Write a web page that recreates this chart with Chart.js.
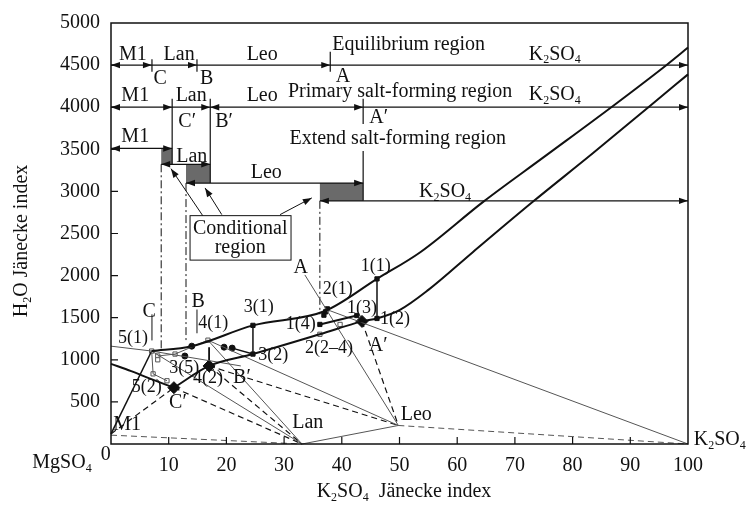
<!DOCTYPE html>
<html><head><meta charset="utf-8">
<script src="https://cdn.jsdelivr.net/npm/chart.js@4.4.0/dist/chart.umd.min.js"></script>
<style>html,body{margin:0;padding:0;background:#fff}#wrap{width:749px;height:508px}</style>
</head><body><div id="wrap"><canvas id="c" width="749" height="508"></canvas></div>
<script>
// ---------- data (Jänecke index: x = K2SO4, y = H2O) ----------
const xTickVals = [0,10,20,30,40,50,60,70,80,90,100];
const yTickVals = [0,500,1000,1500,2000,2500,3000,3500,4000,4500,5000];

// salt points
const ptM1 = [0,120], ptLan = [33.1,0], ptLeo = [49.8,220], ptK2 = [100,0];
// invariant points
const ptC = [7.05,1104], ptB = [16.8,1233], ptA = [37.4,1597];
const ptCp = [10.9,669], ptBp = [17.0,927], ptAp = [43.5,1456];

// solubility curves
const upperCurve = [[7.05,1104],[14.0,1162],[24.6,1409],[37.1,1580],[46.1,1961],[53.6,2278],[64.5,2876],[75,3407],[87,4015],[96.4,4508],[100,4708]];
const lowerLeft = [[0,951],[3.5,865],[7,770],[10.9,669]];
const lowerRight = [[10.9,669],[17.0,927],[24.6,1068],[36.2,1303],[43.5,1456],[46.1,1491],[50,1590],[55,1830],[62.7,2278],[73.1,2876],[83.5,3452],[93.4,4015],[100,4390]];
const thinCurve = [[0,1162],[7.05,1104],[22.5,927]];
const thinCurve2 = [[8.1,1045],[11.1,1068],[16.8,1233]];
const shortCurve = [[36.2,1420],[42.6,1526]];

// experimental points
const filledSq = [[24.6,1409],[24.6,1068],[46.1,1961],[46.1,1491],[42.6,1526],[36.2,1420],[36.9,1530],[37.2,1570],[37.5,1605]];
const openSq = [[7.05,1104],[7.3,833],[9.7,751],[8.1,1045],[8.1,1000],[11.1,1068],[16.8,1233],[36.2,1303],[39.7,1420]];
const diamonds = [[10.9,669],[17.0,927],[43.5,1456]];
const dots = [[14.0,1162],[12.8,1045],[19.6,1150],[21.0,1139]];

// ties between liquid pairs
const tie31 = [[24.6,1068],[24.6,1409]];
const tie11 = [[46.1,1491],[46.1,1961]];
const tie42 = [[17.0,927],[17.0,1150]];
const tieDots = [[21.0,1139],[24.6,1068]];

// region diagram (top)
const rowEq = 4500, rowPri = 4000, rowM1 = 3510, rowLan = 3322, rowLeo = 3099, rowK = 2888;
const eqBounds = [7.1,14.9,38.0];      // C, B, A
const priBounds = [10.6,17.2,43.7];    // C', B', A'
const condRects = [[8.7,10.6,3322,3510],[13.0,17.2,3099,3322],[36.2,43.7,2888,3099]];

// ---------- chart ----------
const SERIF = "'Liberation Serif','Times New Roman',serif";
const ds = [];
const P = a => a.map(p => ({x:p[0], y:p[1]}));
function line(data, w, color, dash, extra){
  ds.push(Object.assign({type:'scatter', data:P(data), showLine:true, borderColor:color, borderWidth:w,
    borderDash:dash||[], pointRadius:0, pointHoverRadius:0, fill:false, tension:0, clip:false}, extra||{}));
}
function pts(data, style, r, fill, border){
  ds.push({type:'scatter', data:P(data), showLine:false, pointStyle:style, pointRadius:r, pointHoverRadius:r,
    pointBackgroundColor:fill, pointBorderColor:border, pointBorderWidth:1, clip:false});
}
const K='#111', G='#555';
const DASH=[6,4], DD=[8,3,2,3];
// main curves
line(upperCurve, 2, K, null, {cubicInterpolationMode:'monotone'});
line(lowerLeft, 2, K, null, {cubicInterpolationMode:'monotone'});
line(lowerRight, 2, K, null, {cubicInterpolationMode:'monotone'});
line(shortCurve, 2, K);
line(thinCurve, 1, G);
line(thinCurve2, 1, G);
line([ptC,[7.3,833],[9.7,751]], 1, G);
// tie lines
line([ptM1, ptC], 1.5, K);
line([ptC, ptLan], 1, G);
line([ptB, ptLan], 1, G);
line([ptB, ptLeo], 1, G);
line([[33.6,2008], ptLeo], 1, G);
line([ptA, ptK2], 1, G);
line([ptLan, ptLeo], 1, G);
line([[0,105], ptLan], 1, G, DASH);
line([ptM1, ptCp], 1.2, K, DASH);
line([ptCp, ptLan], 1.2, K, DASH);
line([ptBp, ptLan], 1.2, K, DASH);
line([ptBp, ptLeo], 1.2, K, DASH);
line([ptAp, ptLeo], 1.2, K, DASH);
line([ptLeo, ptK2], 1, G, DASH);
line(tie31, 1.5, K); line(tie11, 1.5, K); line(tie42, 1.8, K); line(tieDots, 1.5, K);
// leader lines
line([[7.1,1230],[7.1,1540]], 1, K);
line([[14.9,1315],[14.9,1597]], 1, K);
// region diagram lines
line([[0,rowEq],[100,rowEq]], 1.3, K);
line([[0,rowPri],[100,rowPri]], 1.3, K);
line([[0,rowM1],[priBounds[0],rowM1]], 1.3, K);
line([[condRects[0][0],rowLan],[priBounds[1],rowLan]], 1.3, K);
line([[condRects[1][0],rowLeo],[priBounds[2],rowLeo]], 1.3, K);
line([[condRects[2][0],rowK],[100,rowK]], 1.3, K);
line([[eqBounds[0],4420],[eqBounds[0],4570]], 1.2, K);
line([[eqBounds[1],4420],[eqBounds[1],4570]], 1.2, K);
line([[eqBounds[2],4420],[eqBounds[2],4660]], 1.2, K);
line([[priBounds[0],4100],[priBounds[0],rowLan]], 1.2, K);
line([[priBounds[1],4100],[priBounds[1],rowLeo]], 1.2, K);
line([[priBounds[2],4100],[priBounds[2],3800]], 1.2, K);
line([[priBounds[2],3480],[priBounds[2],rowK]], 1.2, K);
line([[condRects[0][0],rowLan],[condRects[0][0],1127]], 1, K, DD);
line([[condRects[1][0],rowLeo],[condRects[1][0],1230]], 1, K, DD);
line([[condRects[2][0],rowK],[condRects[2][0],1540]], 1, K, DD);
// markers
pts(openSq, 'rect', 3, '#fff', G);
pts(filledSq, 'rect', 3, K, K);
pts(dots, 'circle', 3, K, K);
pts(diamonds, 'rectRot', 6, K, K);

// annotations (data coordinates)
const bigLabels = [
 ['M1',3.8,4626],['Lan',11.8,4626],['Leo',26.2,4626],['Equilibrium region',51.6,4743],['K_2SO_4',76.9,4626],
 ['C',8.5,4332],['B',16.6,4332],['A',40.2,4367],
 ['M1',4.2,4132],['Lan',13.9,4132],['Leo',26.2,4132],['Primary salt-forming region',50.1,4179],['K_2SO_4',76.9,4144],
 ["C\u2032",13.2,3827],["B\u2032",19.6,3827],["A\u2032",46.4,3874],
 ['M1',4.2,3651],['Extend salt-forming region',49.7,3628],['Lan',14.0,3416],['Leo',26.9,3217],['K_2SO_4',57.9,2994],
 ['C',6.6,1573],['B',15.1,1691],['A',32.9,2090],["A\u2032",46.3,1162],["B\u2032",22.7,787],["C\u2032",11.6,493],
 ['M1',2.8,223],['Lan',34.1,247],['Leo',52.9,352],['K_2SO_4',105.5,47],['MgSO_4',-8.5,-223],['0',-0.9,-129]
];
const smallLabels = [
 ['1(1)',45.9,2113],['2(1)',39.3,1843],['1(3)',43.5,1608],['1(2)',49.2,1479],['1(4)',32.9,1421],
 ['2(2\u20134)',37.8,1139],['3(1)',25.6,1620],['3(2)',28.1,1057],['4(1)',17.7,1432],['5(1)',3.8,1256],
 ['3(5)',12.7,904],['4(2)',16.8,775],['5(2)',6.2,669]
];
const condBox = [13.7,31.2,2184,2712];
const condArrows = [[[15.9,2712],[10.4,3270]],[[19.2,2724],[16.3,3041]],[[29.3,2724],[34.8,2923]]];
const arrowsR = [[eqBounds[0],rowEq],[eqBounds[1],rowEq],[eqBounds[2],rowEq],[100,rowEq],
 [priBounds[0],rowPri],[priBounds[1],rowPri],[priBounds[2],rowPri],[100,rowPri],
 [priBounds[0],rowM1],[priBounds[1],rowLan],[priBounds[2],rowLeo],[100,rowK]];
const arrowsL = [[0,rowEq],[0,rowPri],[priBounds[1],rowPri],[0,rowM1],[condRects[0][0],rowLan],[condRects[1][0],rowLeo],[condRects[2][0],rowK]];

function rich(ctx, str, x, y, size, align){
  const parts=[];
  for(let i=0;i<str.length;i++){
    if(str[i]==='_'&&i+1<str.length){parts.push([str[i+1],true]);i++;}
    else{ if(parts.length&&!parts[parts.length-1][1]) parts[parts.length-1][0]+=str[i]; else parts.push([str[i],false]); }
  }
  const fN=size+'px '+SERIF, fS=Math.round(size*0.62)+'px '+SERIF;
  let w=0; for(const p of parts){ctx.font=p[1]?fS:fN; w+=ctx.measureText(p[0]).width;}
  let cx = align==='center'? x-w/2 : (align==='right'? x-w : x);
  ctx.textBaseline='middle'; ctx.textAlign='left';
  for(const p of parts){ctx.font=p[1]?fS:fN; ctx.fillText(p[0],cx,p[1]?y+size*0.28:y); cx+=ctx.measureText(p[0]).width;}
}
function arrowHead(ctx,x,y,dir,ang){
  const L=9,H=3.2; ctx.save(); ctx.translate(x,y); ctx.rotate(ang!==undefined?ang:(dir>0?0:Math.PI));
  ctx.beginPath(); ctx.moveTo(0,0); ctx.lineTo(-L,-H); ctx.lineTo(-L,H); ctx.closePath(); ctx.fill(); ctx.restore();
}

const deco = {
  id:'deco',
  beforeDatasetsDraw(chart){
    const ctx=chart.ctx, X=v=>chart.scales.x.getPixelForValue(v), Y=v=>chart.scales.y.getPixelForValue(v);
    ctx.save(); ctx.fillStyle='#6a6a6a';
    for(const r of condRects){ ctx.fillRect(X(r[0]),Y(r[3]),X(r[1])-X(r[0]),Y(r[2])-Y(r[3])); }
    ctx.restore();
  },
  afterDatasetsDraw(chart){
    const ctx=chart.ctx, xs=chart.scales.x, ys=chart.scales.y;
    const X=v=>xs.getPixelForValue(v), Y=v=>ys.getPixelForValue(v);
    ctx.save();
    ctx.fillStyle=K;
    for(const a of arrowsR) arrowHead(ctx,X(a[0]),Y(a[1]),1);
    for(const a of arrowsL) arrowHead(ctx,X(a[0]),Y(a[1]),-1);
    // conditional box
    ctx.fillStyle='#fff'; ctx.strokeStyle=K; ctx.lineWidth=1;
    const bx=X(condBox[0]), by=Y(condBox[3]), bw=X(condBox[1])-bx, bh=Y(condBox[2])-by;
    ctx.fillRect(bx,by,bw,bh); ctx.strokeRect(bx,by,bw,bh);
    ctx.fillStyle=K;
    for(const a of condArrows){
      const x0=X(a[0][0]),y0=Y(a[0][1]),x1=X(a[1][0]),y1=Y(a[1][1]);
      ctx.beginPath(); ctx.moveTo(x0,y0); ctx.lineTo(x1,y1); ctx.stroke();
      arrowHead(ctx,x1,y1,1,Math.atan2(y1-y0,x1-x0));
    }
    rich(ctx,'Conditional',X(22.4),Y(2559),20,'center');
    rich(ctx,'region',X(22.4),Y(2336),20,'center');
    ctx.fillStyle=K;
    for(const l of bigLabels) rich(ctx,l[0],X(l[1]),Y(l[2]),20,'center');
    for(const l of smallLabels) rich(ctx,l[0],X(l[1]),Y(l[2]),18,'center');
    // frame and inward ticks
    ctx.strokeStyle=K; ctx.lineWidth=1.5;
    ctx.strokeRect(X(0),Y(5000),X(100)-X(0),Y(0)-Y(5000));
    ctx.lineWidth=1.2; ctx.beginPath();
    for(const v of xTickVals){ if(v===0||v===100) continue; ctx.moveTo(X(v),Y(0)); ctx.lineTo(X(v),Y(0)-7); }
    for(const v of yTickVals){ if(v===0||v===5000) continue; ctx.moveTo(X(0),Y(v)); ctx.lineTo(X(0)+7,Y(v)); }
    ctx.stroke();
    // axis titles
    rich(ctx,'K_2SO_4  J\u00e4necke index',404,492,20,'center');
    ctx.translate(22,241); ctx.rotate(-Math.PI/2);
    rich(ctx,'H_2O J\u00e4necke index',0,0,20,'center');
    ctx.restore();
  }
};

new Chart(document.getElementById('c'), {
  type:'scatter',
  data:{datasets:ds},
  options:{
    responsive:false, animation:false, devicePixelRatio:1, events:[],
    layout:{padding:{left:0,right:61,top:18,bottom:0}},
    plugins:{legend:{display:false},tooltip:{enabled:false}},
    scales:{
      x:{type:'linear',min:0,max:100,
        afterBuildTicks:s=>{s.ticks=xTickVals.map(v=>({value:v}));},
        afterFit:s=>{s.height=64;},
        grid:{display:false,drawTicks:false}, border:{display:false},
        ticks:{padding:10,color:K,font:{family:SERIF,size:20},maxRotation:0,autoSkip:false,callback:v=>v===0?'':v}},
      y:{type:'linear',min:0,max:5000,
        afterBuildTicks:s=>{s.ticks=yTickVals.map(v=>({value:v}));},
        afterFit:s=>{s.width=111;},
        grid:{display:false,drawTicks:false}, border:{display:false},
        ticks:{padding:11,color:K,font:{family:SERIF,size:20},autoSkip:false,callback:v=>v===0?'':v}}
    }
  },
  plugins:[deco]
});
</script></body></html>
